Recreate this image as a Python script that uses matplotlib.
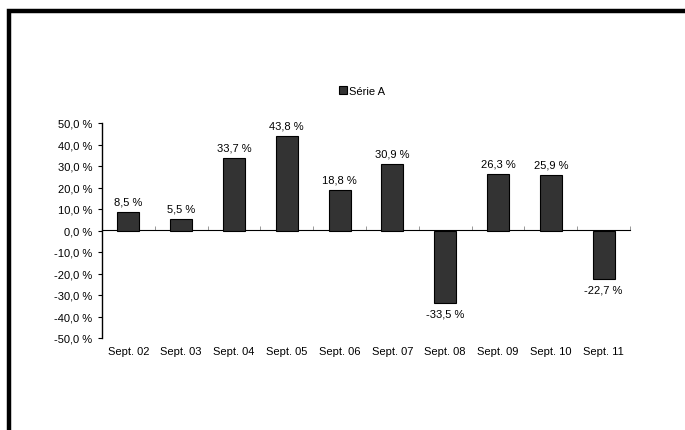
import matplotlib
matplotlib.use("Agg")
import matplotlib.pyplot as plt
from matplotlib.patches import Rectangle

plt.rcParams['font.family'] = ['Liberation Sans', 'DejaVu Sans']

mois = ["Sept. 02", "Sept. 03", "Sept. 04", "Sept. 05", "Sept. 06",
        "Sept. 07", "Sept. 08", "Sept. 09", "Sept. 10", "Sept. 11"]
serie_a = [8.5, 5.5, 33.7, 43.8, 18.8, 30.9, -33.5, 26.3, 25.9, -22.7]
graduations = [-50, -40, -30, -20, -10, 0, 10, 20, 30, 40, 50]


def pct(v):
    return ("%.1f %%" % v).replace(".", ",")


def main():
    fig = plt.figure(figsize=(6.85, 4.31), dpi=100)
    W, H = 685, 431
    fs = 8
    # cadre noir autour du graphique (coupé à droite et en bas)
    fig.patches.append(Rectangle((9 / W, -0.05), 1.0, 1 - 12 / H + 0.05,
                                 transform=fig.transFigure, fill=False,
                                 edgecolor="black", linewidth=3.2))

    ax = fig.add_axes([102 / W, 1 - 339 / H, (630 - 102) / W, (339 - 124) / H])
    x = list(range(len(mois)))
    bars = ax.bar(x, serie_a, width=0.42, color="#333333",
                  edgecolor="black", linewidth=0.8, label="Série A", zorder=3)

    for b, v in zip(bars, serie_a):
        cx = b.get_x() + b.get_width() / 2
        if v >= 0:
            ax.annotate(pct(v), (cx, v), xytext=(0, 4), textcoords="offset points",
                        ha="center", va="bottom", fontsize=fs)
        else:
            ax.annotate(pct(v), (cx, v), xytext=(0, -4), textcoords="offset points",
                        ha="center", va="top", fontsize=fs)

    ax.set_xlim(-0.5, len(mois) - 0.5)
    ax.set_ylim(-50, 50)
    ax.set_yticks(graduations)
    ax.set_yticklabels([pct(g) for g in graduations])
    ax.tick_params(axis="y", length=3, width=0.8, pad=4, labelsize=fs)
    ax.set_xticks(x)
    ax.set_xticklabels(mois)
    ax.tick_params(axis="x", length=0, pad=6, labelsize=fs)
    for s in ["top", "right", "bottom"]:
        ax.spines[s].set_visible(False)
    ax.spines["left"].set_linewidth(1.0)

    # axe horizontal à zéro avec graduations entre catégories
    sec = ax.secondary_xaxis(0.5)
    sec.set_xticks([i + 0.5 for i in range(-1, len(mois))])
    sec.set_xticklabels([])
    sec.tick_params(length=3, width=0.6, color="#888888")
    sec.spines["bottom"].set_linewidth(1.0)

    fig.legend(loc="center", bbox_to_anchor=(362 / W, 1 - 92 / H), frameon=False,
               fontsize=fs, handlelength=0.7, handleheight=0.7,
               handletextpad=0.2, borderpad=0)

    fig.savefig("out.png", dpi=100)


if __name__ == "__main__":
    main()
